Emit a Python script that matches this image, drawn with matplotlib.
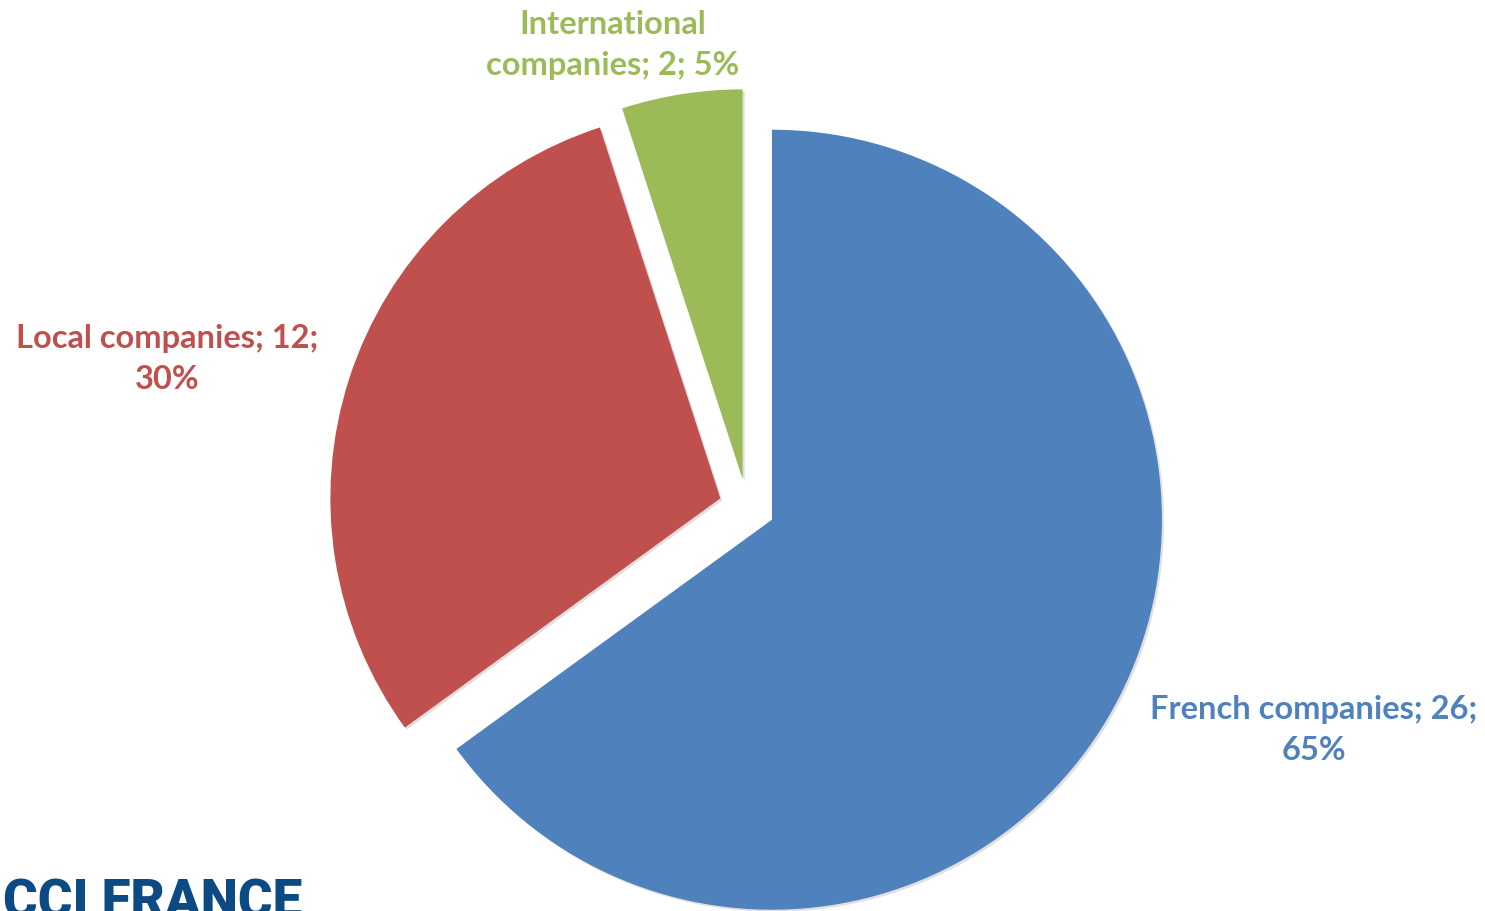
import matplotlib
matplotlib.use("Agg")
import matplotlib.pyplot as plt
from matplotlib import patheffects as pe

categories = ["French companies", "Local companies", "International companies"]
values = [26, 12, 2]
percents = ["65%", "30%", "5%"]
colors = ["#4F81BD", "#C0504D", "#9BBB59"]
label_texts = ["French companies; 26;\n65%", "Local companies; 12;\n30%", "International\ncompanies; 2; 5%"]

W, H = 1485, 911
fig = plt.figure(figsize=(W / 100, H / 100), dpi=100)
ax = fig.add_axes([0, 0, 1, 1])

cx, cy, r = 747, H - 507, 390
wedges, _ = ax.pie(values, colors=colors, startangle=90, counterclock=False,
                   radius=r, center=(cx, cy), explode=[28] * 3,
                   frame=True, wedgeprops=dict(linewidth=0))
ax.set_xlim(0, W)
ax.set_ylim(0, H)
ax.set_aspect("equal")
ax.axis("off")
for w in wedges:
    w.set_path_effects([pe.SimplePatchShadow(offset=(1.5, -1.5), shadow_rgbFace="#000000", alpha=0.12),
                        pe.Normal()])

label_pos = [(1314, H - 730), (167, H - 359), (613, H - 45)]
for txt, pos, c in zip(label_texts, label_pos, colors):
    ax.text(pos[0], pos[1], txt, ha="center", va="center", color=c,
            fontsize=23.5, fontweight="bold", family="Lato", linespacing=1.48)

ax.text(3, H - 878, "CCI FRANCE", ha="left", va="top", color="#0B4A82",
        fontsize=38, fontweight="heavy", family="Roboto")

fig.savefig("out.png", dpi=100)
